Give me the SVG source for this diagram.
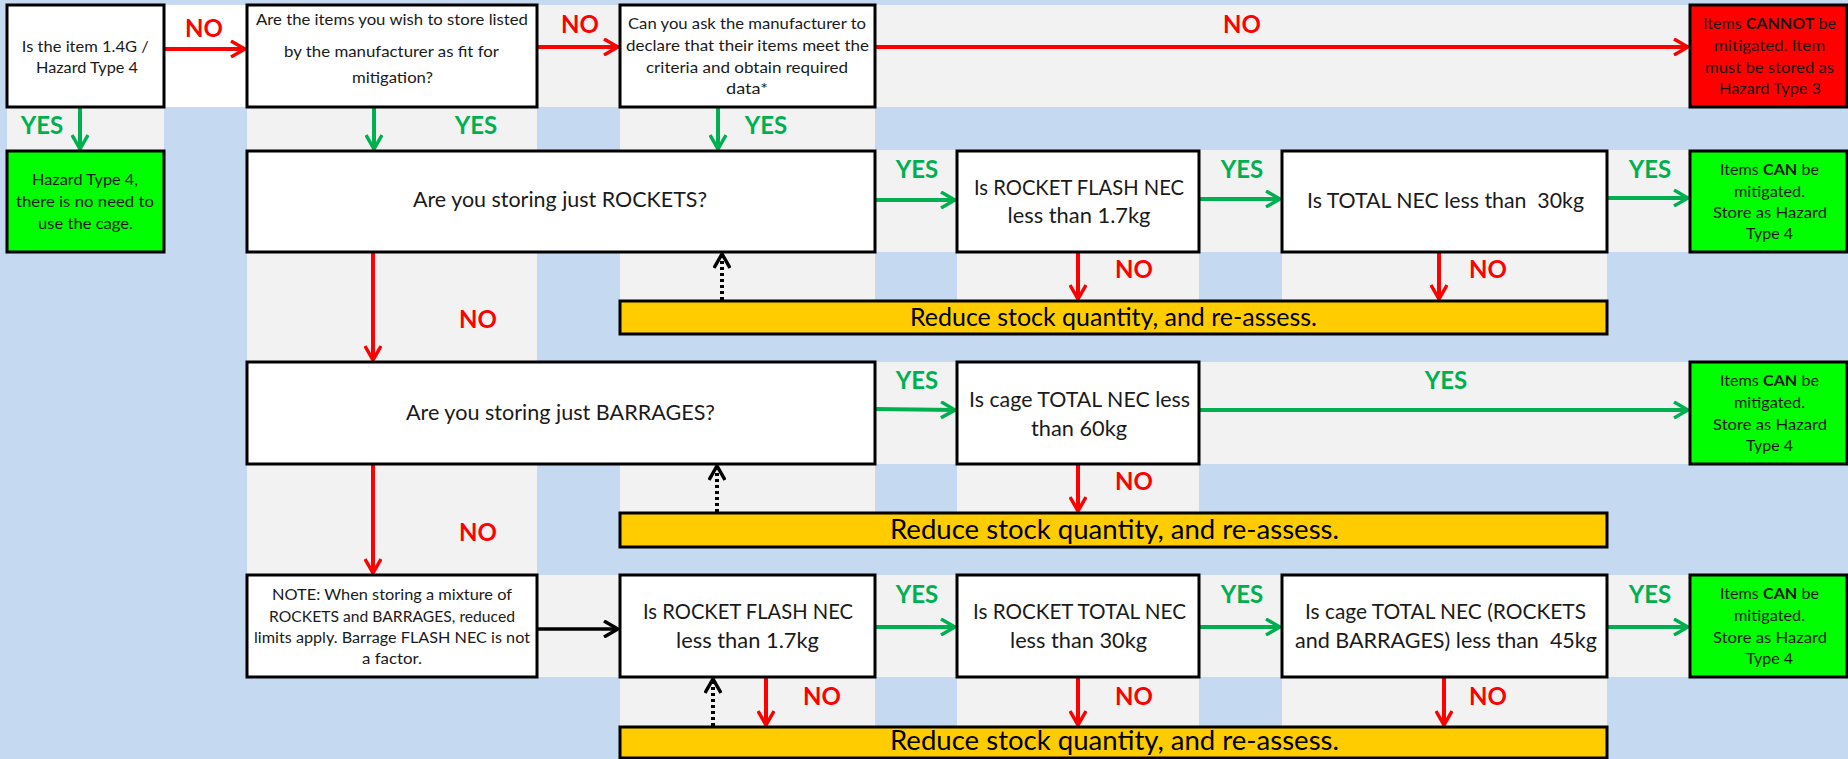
<svg xmlns="http://www.w3.org/2000/svg" width="1848" height="759" viewBox="0 0 1848 759">
<style>
.bg{fill:#C5D9F1}
.g{fill:#F2F2F2}
.box{fill:#FFFFFF;stroke:#000;stroke-width:3}
.grn{fill:#00FF00;stroke:#000;stroke-width:3}
.redb{fill:#FF0000;stroke:#000;stroke-width:3}
.yel{fill:#FFCC00;stroke:#000;stroke-width:3}
text{font-family:Lato,"Open Sans","Liberation Sans",sans-serif;text-anchor:middle;fill:#1A1A1A}
.s{font-size:16px}
.m{font-size:21px}
.l{font-size:25px;fill:#000}
.xl{font-size:27px;fill:#000}
.no{font-size:24px;font-weight:bold;fill:#FF0000}
.yes{font-size:24px;font-weight:bold;fill:#00B050}
.b{font-weight:bold}
.cr{fill:none;stroke:#FF0000;stroke-width:4}
.cg{fill:none;stroke:#00B050;stroke-width:4}
.ck{fill:none;stroke:#000;stroke-width:3.5}
.cd{fill:none;stroke:#000;stroke-width:4;stroke-dasharray:3 3}
</style>
<defs>
<marker id="ar" viewBox="0 0 18 18" refX="16" refY="9" markerWidth="18" markerHeight="18" markerUnits="userSpaceOnUse" orient="auto"><path d="M2,1 L16,9 L2,17" fill="none" stroke="#FF0000" stroke-width="3.5"/></marker>
<marker id="ag" viewBox="0 0 18 18" refX="16" refY="9" markerWidth="18" markerHeight="18" markerUnits="userSpaceOnUse" orient="auto"><path d="M2,1 L16,9 L2,17" fill="none" stroke="#00B050" stroke-width="3.5"/></marker>
<marker id="ak" viewBox="0 0 18 18" refX="16" refY="9" markerWidth="18" markerHeight="18" markerUnits="userSpaceOnUse" orient="auto"><path d="M2,1 L16,9 L2,17" fill="none" stroke="#000" stroke-width="3.5"/></marker>
</defs>

<g id="background">
<rect class="bg" x="0" y="0" width="1848" height="759"/>
<rect fill="#FFFFFF" x="164" y="5" width="83" height="102"/>
<rect class="g" x="537" y="5" width="83" height="102"/>
<rect class="g" x="875" y="5" width="815" height="102"/>
<rect class="g" x="7" y="107" width="157" height="43"/>
<rect class="g" x="247" y="107" width="290" height="43"/>
<rect class="g" x="620" y="107" width="255" height="43"/>
<rect class="g" x="875" y="150" width="82" height="102"/>
<rect class="g" x="1199" y="150" width="83" height="102"/>
<rect class="g" x="1607" y="150" width="83" height="102"/>
<rect class="g" x="247" y="252" width="290" height="110"/>
<rect class="g" x="620" y="252" width="255" height="49"/>
<rect class="g" x="957" y="252" width="242" height="49"/>
<rect class="g" x="1282" y="252" width="325" height="49"/>
<rect class="g" x="875" y="362" width="82" height="102"/>
<rect class="g" x="1199" y="362" width="491" height="102"/>
<rect class="g" x="247" y="464" width="290" height="111"/>
<rect class="g" x="620" y="464" width="255" height="49"/>
<rect class="g" x="957" y="464" width="242" height="49"/>
<rect class="g" x="537" y="575" width="83" height="102"/>
<rect class="g" x="875" y="575" width="82" height="102"/>
<rect class="g" x="1199" y="575" width="83" height="102"/>
<rect class="g" x="1607" y="575" width="83" height="102"/>
<rect class="g" x="620" y="677" width="255" height="50"/>
<rect class="g" x="957" y="677" width="242" height="50"/>
<rect class="g" x="1282" y="677" width="325" height="50"/>
</g>

<g id="connectors">
<line class="cr" x1="164" y1="49" x2="245" y2="49" marker-end="url(#ar)"/>
<line class="cr" x1="537" y1="47" x2="618" y2="47" marker-end="url(#ar)"/>
<line class="cr" x1="875" y1="47" x2="1688" y2="47" marker-end="url(#ar)"/>
<line class="cg" x1="80" y1="107" x2="80" y2="149" marker-end="url(#ag)"/>
<line class="cg" x1="374" y1="107" x2="374" y2="149" marker-end="url(#ag)"/>
<line class="cg" x1="718" y1="107" x2="718" y2="149" marker-end="url(#ag)"/>
<line class="cg" x1="875" y1="200" x2="955" y2="200" marker-end="url(#ag)"/>
<line class="cg" x1="1199" y1="199" x2="1280" y2="199" marker-end="url(#ag)"/>
<line class="cg" x1="1607" y1="198" x2="1688" y2="198" marker-end="url(#ag)"/>
<line class="cr" x1="1078" y1="252" x2="1078" y2="299" marker-end="url(#ar)"/>
<line class="cr" x1="1439" y1="252" x2="1439" y2="299" marker-end="url(#ar)"/>
<line class="cd" x1="722" y1="300" x2="722" y2="254" marker-end="url(#ak)"/>
<line class="cr" x1="373" y1="252" x2="373" y2="360" marker-end="url(#ar)"/>
<line class="cg" x1="875" y1="409" x2="955" y2="410" marker-end="url(#ag)"/>
<line class="cg" x1="1199" y1="410" x2="1688" y2="410" marker-end="url(#ag)"/>
<line class="cr" x1="1078" y1="464" x2="1078" y2="511" marker-end="url(#ar)"/>
<line class="cd" x1="717" y1="512" x2="717" y2="466" marker-end="url(#ak)"/>
<line class="cr" x1="373" y1="464" x2="373" y2="573" marker-end="url(#ar)"/>
<line class="ck" x1="537" y1="629" x2="618" y2="629" marker-end="url(#ak)"/>
<line class="cg" x1="875" y1="627" x2="955" y2="627" marker-end="url(#ag)"/>
<line class="cg" x1="1199" y1="627" x2="1280" y2="627" marker-end="url(#ag)"/>
<line class="cg" x1="1607" y1="627" x2="1688" y2="627" marker-end="url(#ag)"/>
<line class="cr" x1="766" y1="677" x2="766" y2="725" marker-end="url(#ar)"/>
<line class="cd" x1="713" y1="726" x2="713" y2="679" marker-end="url(#ak)"/>
<line class="cr" x1="1078" y1="677" x2="1078" y2="725" marker-end="url(#ar)"/>
<line class="cr" x1="1444" y1="677" x2="1444" y2="725" marker-end="url(#ar)"/>
</g>

<g id="labels">
<text class="no" x="204" y="37">NO</text>
<text class="no" x="580" y="33">NO</text>
<text class="no" x="1242" y="33">NO</text>
<text class="yes" x="42" y="134">YES</text>
<text class="yes" x="476" y="134">YES</text>
<text class="yes" x="766" y="134">YES</text>
<text class="yes" x="917" y="178">YES</text>
<text class="yes" x="1242" y="178">YES</text>
<text class="yes" x="1650" y="178">YES</text>
<text class="no" x="1134" y="278">NO</text>
<text class="no" x="1488" y="278">NO</text>
<text class="no" x="478" y="328">NO</text>
<text class="yes" x="917" y="389">YES</text>
<text class="yes" x="1446" y="389">YES</text>
<text class="no" x="1134" y="490">NO</text>
<text class="no" x="478" y="541">NO</text>
<text class="yes" x="917" y="603">YES</text>
<text class="yes" x="1242" y="603">YES</text>
<text class="yes" x="1650" y="603">YES</text>
<text class="no" x="822" y="705">NO</text>
<text class="no" x="1134" y="705">NO</text>
<text class="no" x="1488" y="705">NO</text>
</g>

<g id="n-is14g">
<rect class="box" x="7" y="5" width="157" height="102"/>
<text class="s" x="85.3" y="52" textLength="127" lengthAdjust="spacingAndGlyphs">Is the item 1.4G /</text>
<text class="s" x="87" y="73" textLength="102" lengthAdjust="spacingAndGlyphs">Hazard Type 4</text>
</g>
<g id="n-listed">
<rect class="box" x="247" y="5" width="290" height="102"/>
<text class="s" x="392" y="25" textLength="272" lengthAdjust="spacingAndGlyphs">Are the items you wish to store listed</text>
<text class="s" x="391.5" y="57" textLength="215" lengthAdjust="spacingAndGlyphs">by the manufacturer as fit for</text>
<text class="s" x="392.5" y="83" textLength="81" lengthAdjust="spacingAndGlyphs">mitigation?</text>
</g>
<g id="n-ask">
<rect class="box" x="620" y="5" width="255" height="102"/>
<text class="s" x="747" y="29" textLength="238" lengthAdjust="spacingAndGlyphs">Can you ask the manufacturer to</text>
<text class="s" x="747.5" y="51" textLength="243" lengthAdjust="spacingAndGlyphs">declare that their items meet the</text>
<text class="s" x="747" y="73" textLength="202" lengthAdjust="spacingAndGlyphs">criteria and obtain required</text>
<text class="s" x="747" y="94" textLength="42" lengthAdjust="spacingAndGlyphs">data*</text>
</g>
<g id="n-cannot">
<rect class="redb" x="1690" y="5" width="157" height="102"/>
<text class="s" x="1769.5" y="29" textLength="133" lengthAdjust="spacingAndGlyphs">Items <tspan class="b">CANNOT</tspan> be</text>
<text class="s" x="1769.5" y="51" textLength="111" lengthAdjust="spacingAndGlyphs">mitigated. Item</text>
<text class="s" x="1769.5" y="73" textLength="129" lengthAdjust="spacingAndGlyphs">must be stored as</text>
<text class="s" x="1770" y="94" textLength="102" lengthAdjust="spacingAndGlyphs">Hazard Type 3</text>
</g>
<g id="n-ht4">
<rect class="grn" x="7" y="151" width="157" height="101"/>
<text class="s" x="85" y="185" textLength="106" lengthAdjust="spacingAndGlyphs">Hazard Type 4,</text>
<text class="s" x="85" y="207" textLength="138" lengthAdjust="spacingAndGlyphs">there is no need to</text>
<text class="s" x="85.5" y="229" textLength="95" lengthAdjust="spacingAndGlyphs">use the cage.</text>
</g>
<g id="n-rockets">
<rect class="box" x="247" y="151" width="628" height="101"/>
<text class="m" x="560" y="207" textLength="294" lengthAdjust="spacingAndGlyphs">Are you storing just ROCKETS?</text>
</g>
<g id="n-flash1">
<rect class="box" x="957" y="151" width="242" height="101"/>
<text class="m" x="1079" y="195" textLength="210" lengthAdjust="spacingAndGlyphs">Is ROCKET FLASH NEC</text>
<text class="m" x="1079" y="223" textLength="143" lengthAdjust="spacingAndGlyphs">less than 1.7kg</text>
</g>
<g id="n-total30">
<rect class="box" x="1282" y="151" width="325" height="101"/>
<text class="m" x="1445.5" y="208" xml:space="preserve" textLength="277" lengthAdjust="spacingAndGlyphs">Is TOTAL NEC less than  30kg</text>
</g>
<g id="n-can1">
<rect class="grn" x="1690" y="151" width="157" height="101"/>
<text class="s" x="1769.5" y="175" textLength="99" lengthAdjust="spacingAndGlyphs">Items <tspan class="b">CAN</tspan> be</text>
<text class="s" x="1769.5" y="197" textLength="71" lengthAdjust="spacingAndGlyphs">mitigated.</text>
<text class="s" x="1770" y="218" textLength="114" lengthAdjust="spacingAndGlyphs">Store as Hazard</text>
<text class="s" x="1769.5" y="239" textLength="47" lengthAdjust="spacingAndGlyphs">Type 4</text>
</g>
<g id="n-reduce1">
<rect class="yel" x="620" y="301" width="987" height="33"/>
<text class="l" x="1113.5" y="326" textLength="407" lengthAdjust="spacingAndGlyphs">Reduce stock quantity, and re-assess.</text>
</g>
<g id="n-barrages">
<rect class="box" x="247" y="362" width="628" height="102"/>
<text class="m" x="560.5" y="420" textLength="309" lengthAdjust="spacingAndGlyphs">Are you storing just BARRAGES?</text>
</g>
<g id="n-cage60">
<rect class="box" x="957" y="362" width="242" height="102"/>
<text class="m" x="1079.5" y="407" textLength="221" lengthAdjust="spacingAndGlyphs">Is cage TOTAL NEC less</text>
<text class="m" x="1079" y="436" textLength="96" lengthAdjust="spacingAndGlyphs">than 60kg</text>
</g>
<g id="n-can2">
<rect class="grn" x="1690" y="362" width="157" height="102"/>
<text class="s" x="1769.5" y="386" textLength="99" lengthAdjust="spacingAndGlyphs">Items <tspan class="b">CAN</tspan> be</text>
<text class="s" x="1769.5" y="408" textLength="71" lengthAdjust="spacingAndGlyphs">mitigated.</text>
<text class="s" x="1770" y="430" textLength="114" lengthAdjust="spacingAndGlyphs">Store as Hazard</text>
<text class="s" x="1769.5" y="451" textLength="47" lengthAdjust="spacingAndGlyphs">Type 4</text>
</g>
<g id="n-reduce2">
<rect class="yel" x="620" y="513" width="987" height="34"/>
<text class="xl" x="1114.5" y="539" textLength="449" lengthAdjust="spacingAndGlyphs">Reduce stock quantity, and re-assess.</text>
</g>
<g id="n-note">
<rect class="box" x="247" y="575" width="290" height="102"/>
<text class="s" x="392" y="600" textLength="240" lengthAdjust="spacingAndGlyphs">NOTE: When storing a mixture of</text>
<text class="s" x="392" y="622" textLength="246" lengthAdjust="spacingAndGlyphs">ROCKETS and BARRAGES, reduced</text>
<text class="s" x="392" y="643" textLength="276" lengthAdjust="spacingAndGlyphs">limits apply. Barrage FLASH NEC is not</text>
<text class="s" x="392" y="664" textLength="60" lengthAdjust="spacingAndGlyphs">a factor.</text>
</g>
<g id="n-flash2">
<rect class="box" x="620" y="575" width="255" height="102"/>
<text class="m" x="748" y="619" textLength="210" lengthAdjust="spacingAndGlyphs">Is ROCKET FLASH NEC</text>
<text class="m" x="747.5" y="648" textLength="143" lengthAdjust="spacingAndGlyphs">less than 1.7kg</text>
</g>
<g id="n-rtotal30">
<rect class="box" x="957" y="575" width="242" height="102"/>
<text class="m" x="1079.5" y="619" textLength="213" lengthAdjust="spacingAndGlyphs">Is ROCKET TOTAL NEC</text>
<text class="m" x="1078.5" y="648" textLength="137" lengthAdjust="spacingAndGlyphs">less than 30kg</text>
</g>
<g id="n-cage45">
<rect class="box" x="1282" y="575" width="325" height="102"/>
<text class="m" x="1445.5" y="619" textLength="281" lengthAdjust="spacingAndGlyphs">Is cage TOTAL NEC (ROCKETS</text>
<text class="m" x="1446" y="648" xml:space="preserve" textLength="302" lengthAdjust="spacingAndGlyphs">and BARRAGES) less than  45kg</text>
</g>
<g id="n-can3">
<rect class="grn" x="1690" y="575" width="157" height="102"/>
<text class="s" x="1769.5" y="599" textLength="99" lengthAdjust="spacingAndGlyphs">Items <tspan class="b">CAN</tspan> be</text>
<text class="s" x="1769.5" y="621" textLength="71" lengthAdjust="spacingAndGlyphs">mitigated.</text>
<text class="s" x="1770" y="643" textLength="114" lengthAdjust="spacingAndGlyphs">Store as Hazard</text>
<text class="s" x="1769.5" y="664" textLength="47" lengthAdjust="spacingAndGlyphs">Type 4</text>
</g>
<g id="n-reduce3">
<rect class="yel" x="620" y="727" width="987" height="31"/>
<text class="xl" x="1114.5" y="750" textLength="449" lengthAdjust="spacingAndGlyphs">Reduce stock quantity, and re-assess.</text>
</g>
</svg>
